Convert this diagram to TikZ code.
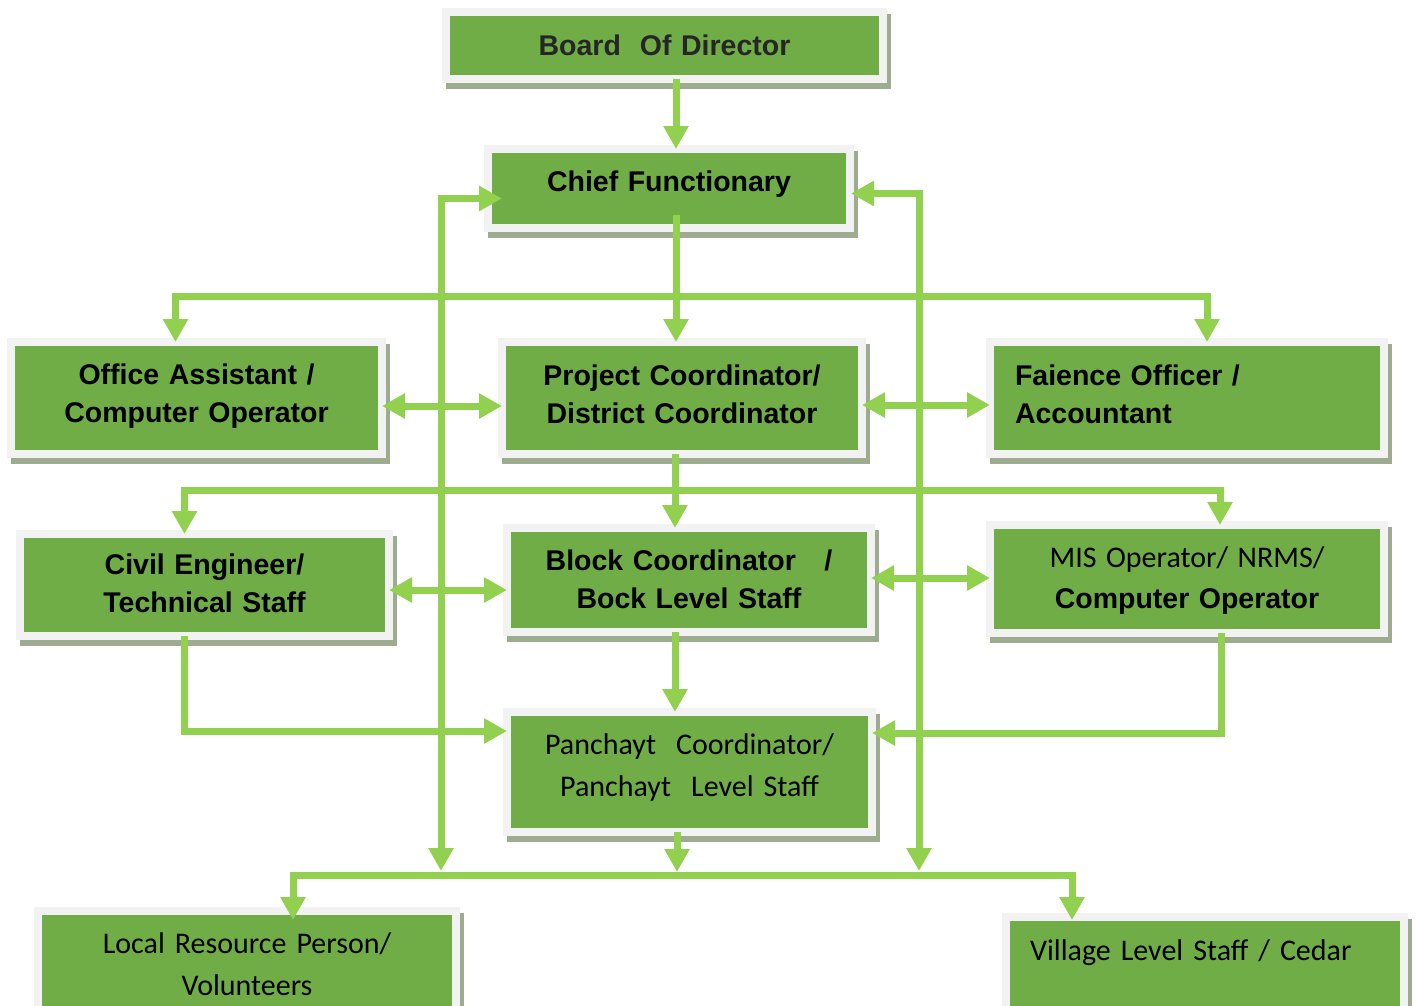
\documentclass[tikz,border=0pt]{standalone}
\usepackage{fontspec}
\setmainfont{Liberation Sans}
\newfontfamily\lightfont{Carlito}
\usepackage{tikz}
\usetikzlibrary{calc,positioning,arrows.meta}
\definecolor{boxgreen}{HTML}{70AD47}
\definecolor{framegray}{HTML}{F2F2F2}
\definecolor{shadowgray}{HTML}{9DAB8E}
\definecolor{linkgreen}{HTML}{92D050}
\definecolor{textgray}{HTML}{262626}

\begin{document}
\begin{tikzpicture}[x=1pt, y=-1pt,
    box/.style={rectangle, fill=boxgreen, draw=framegray, line width=8pt, outer sep=4pt, inner xsep=0pt, inner ysep=0pt, anchor=north west, align=center, text=black, font=\fontsize{28.5}{38}\selectfont\bfseries, preaction={draw=shadowgray, line width=8pt, transform canvas={xshift=4pt, yshift=-6pt}}},
    plainbox/.style={font=\normalfont\lightfont\fontsize{30}{42}\selectfont},
    link/.style={draw=linkgreen, line width=7pt, shorten <=-4pt, shorten >=-4pt, -{Triangle[width=24pt, length=23pt]}},
    twoway/.style={link, {Triangle[width=24pt, length=23pt]}-{Triangle[width=24pt, length=23pt]}}]
    \useasboundingbox (0,0) rectangle (1416,1005);

    \node[box, text width=437pt, text height=43pt, text depth=24pt, text=textgray] (board) at (442,8) {Board\ \ Of Director};
    \node[box, text width=362pt, text height=42pt, text depth=37pt] (chief) at (484,145) {Chief Functionary};

    \node[box, text width=371pt, text height=42pt, text depth=70pt] (office) at (7,338) {Office Assistant /\\Computer Operator};
    \node[box, text width=360pt, text height=43pt, text depth=69pt] (project) at (498,338) {Project Coordinator/\\District Coordinator};
    \node[box, text width=344pt, inner xsep=25pt, text height=43pt, text depth=69pt, align=left] (accounts) at (986,338) {Faience Officer /\\Accountant};

    \node[box, text width=369pt, text height=40pt, text depth=62pt] (civil) at (16,530) {Civil Engineer/\\Technical Staff};
    \node[box, text width=364pt, text height=42pt, text depth=62pt] (block) at (503,524) {Block Coordinator\ \ \ /\\Bock Level Staff};
    \node[box, text width=394pt, text height=42pt, text depth=66pt, font=\fontsize{28.5}{41}\selectfont\bfseries] (mis) at (986,521) {{\normalfont\lightfont\fontsize{30}{41}\selectfont MIS Operator/ NRMS/}\\Computer Operator};

    \node[box, plainbox, text width=365pt, text height=42pt, text depth=78pt] (pan) at (503,708) {Panchayt\ \ Coordinator/\\Panchayt\ \ Level Staff};

    \node[box, plainbox, text width=418pt, text height=42pt, text depth=93pt] (lrp) at (34,907) {Local Resource Person/\\Volunteers};
    \node[box, plainbox, text width=350pt, inner xsep=24pt, text height=43pt, text depth=86pt, align=left] (village) at (1002,913) {Village Level Staff / Cedar};

    \coordinate (j1) at (676,296);
    \coordinate (j2) at (675,490);
    \coordinate (j3) at (677,875);
    \coordinate (lv) at (441,867);
    \coordinate (rv) at (919,867);

    \draw[link] (board.south -| j1) -- (chief.north -| j1);
    \draw[link] ([yshift=13pt]chief.south -| j1) -- (project.north -| j1);
    \draw[twoway] ([xshift=-21pt]office.north) |- (j1) -| ([xshift=20pt]accounts.north);
    \draw[twoway] ([yshift=-8pt]office.east) -- ([yshift=-8pt]office.east -| project.west);
    \draw[twoway] ([yshift=-7pt]project.east) -- ([yshift=-7pt]project.east -| accounts.west);

    \draw[link] (project.south -| j2) -- (block.north -| j2);
    \draw[twoway] ([xshift=-20pt]civil.north) |- (j2) -| ([xshift=33pt]mis.north);
    \draw[twoway] ([yshift=-5pt]civil.east) -- ([yshift=-5pt]civil.east -| block.west);
    \draw[twoway] ([yshift=2pt]block.east) -- ([yshift=2pt]block.east -| mis.west);

    \draw[link] (block.south -| j2) -- (pan.north -| j2);
    \draw[link] ([xshift=-20pt]civil.south) |- ([yshift=41pt]pan.west);
    \draw[link] ([xshift=34pt]mis.south) |- ([yshift=39pt]pan.east);

    \draw[twoway] ([xshift=14pt, yshift=-10pt]chief.west) -| (lv);
    \draw[twoway] ([xshift=1pt, yshift=-5pt]chief.east) -| (rv);

    \draw[link, shorten >=3pt] (pan.south -| j3) -- (j3);
    \draw[twoway] ([xshift=46pt, yshift=-9pt]lrp.north) |- (j3) -| ([xshift=-133pt, yshift=-3pt]village.north);

\end{tikzpicture}
\end{document}
